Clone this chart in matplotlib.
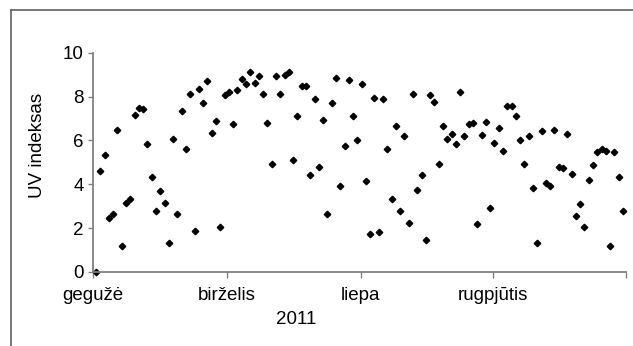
import numpy as np
import matplotlib
matplotlib.use("Agg")
import matplotlib.pyplot as plt
from matplotlib.lines import Line2D

plt.rcParams['font.family'] = ['Liberation Sans', 'DejaVu Sans']

# daily UV index, 2011-05-01 .. 2011-09-01
uv = [0.0, 4.6, 5.33, 2.48, 2.66, 6.49, 1.19, 3.15, 3.32, 7.15,
      7.49, 7.41, 5.82, 4.31, 2.79, 3.70, 3.15, 1.32, 6.06, 2.66,
      7.34, 5.63, 8.13, 1.87, 8.33, 7.70, 8.69, 6.36, 6.87, 2.06,
      8.07, 8.19, 6.73, 8.31, 8.80, 8.56, 9.10, 8.62, 8.92, 8.13,
      6.79, 4.92, 8.92, 8.13, 8.98, 9.10, 5.10, 7.10, 8.49, 8.49,
      4.43, 7.89, 4.80, 6.91, 2.66, 7.70, 8.86, 3.94, 5.75, 8.74,
      7.10, 6.01, 8.56, 4.13, 1.75, 7.95, 1.81, 7.89, 5.59, 3.33,
      6.67, 2.79, 6.18, 2.24, 8.13, 3.76, 4.43, 1.45, 8.07, 7.76,
      4.92, 6.67, 6.06, 6.30, 5.82, 8.19, 6.18, 6.73, 6.79, 2.18,
      6.24, 6.85, 2.91, 5.88, 6.55, 5.53, 7.58, 7.58, 7.10, 6.01,
      4.92, 6.18, 3.82, 1.32, 6.42, 4.07, 3.94, 6.49, 4.80, 4.74,
      6.30, 4.49, 2.54, 3.09, 2.06, 4.19, 4.86, 5.45, 5.59, 5.53,
      1.20, 5.45, 4.31, 2.79]
month_ticks = [-0.7, 30.57, 61.84, 92.65, 123.7]
month_labels = ['gegužė', 'birželis', 'liepa', 'rugpjūtis', '']

days = np.arange(len(uv))

fig = plt.figure(figsize=(6.33, 3.46), dpi=100)
ax = fig.add_axes([93/633, 1-272/346, 533/633, 219.3/346])

ax.plot(days, uv, linestyle='none', marker='D', markersize=3.3,
        color='black', clip_on=False)

ax.set_xlim(month_ticks[0], month_ticks[-1])
ax.set_ylim(0, 10)
ax.set_yticks(range(0, 11, 2))
ax.set_xticks(month_ticks)
ax.set_xticklabels(month_labels)

for s in ['top', 'right']:
    ax.spines[s].set_visible(False)
for s in ['left', 'bottom']:
    ax.spines[s].set_color('#808080')
    ax.spines[s].set_linewidth(1.3)
ax.tick_params(axis='both', colors='#808080', width=1, labelcolor='black',
               labelsize=13.5)
ax.tick_params(axis='x', direction='out', length=4.5, pad=6)
ax.tick_params(axis='y', direction='out', length=3.5, pad=3)

ax.set_xlabel('2011', fontsize=13.5)
ax.xaxis.set_label_coords(0.381, -0.18)
ax.xaxis.label.set_va('top')
ax.set_ylabel('UV indeksas', fontsize=13.5)
ax.yaxis.set_label_coords(-0.105, 0.579)
ax.yaxis.label.set_va('center')

# outer chart border (left and top only are in view)
fig.add_artist(Line2D([11/633, 11/633], [0, 1-10/346], color='#606060', lw=1.2))
fig.add_artist(Line2D([11/633, 1], [1-10/346, 1-10/346], color='#606060', lw=1.2))

fig.savefig('out.png', dpi=100)
